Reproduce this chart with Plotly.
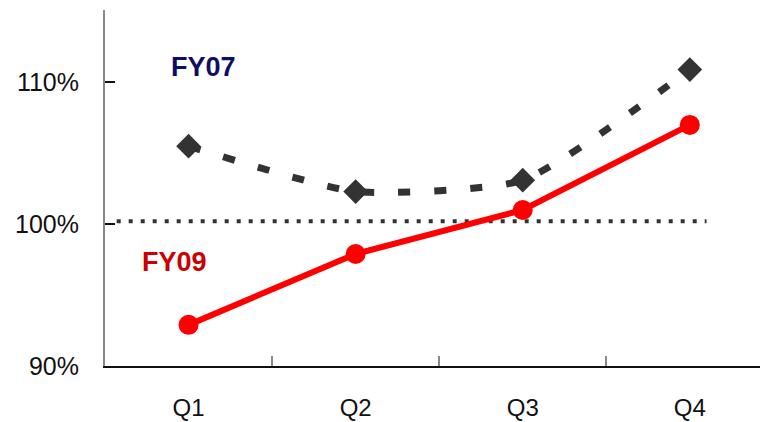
import plotly.graph_objects as go

quarters = ["Q1", "Q2", "Q3", "Q4"]
fy07 = [105.5, 102.3, 103.1, 110.9]
fy09 = [92.9, 97.9, 101.0, 107.0]
baseline = 100.2
y_ticks = [90, 100, 110]
y_tick_labels = ["90%", "100%", "110%"]

FONT_FAMILY = "Liberation Sans, Arial, sans-serif"

fig = go.Figure()

# reference line near 100%
fig.add_shape(
    type="line", xref="x", yref="y",
    x0=-0.43, x1=3.1, y0=baseline, y1=baseline,
    line=dict(color="#333333", width=4, dash="4px,8px"),
    layer="below",
)

fig.add_trace(go.Scatter(
    x=quarters, y=fy07, mode="lines+markers", name="FY07",
    line=dict(color="#333333", width=7, dash="12px,24px", shape="spline", smoothing=0.55),
    marker=dict(symbol="diamond", size=19, color="#333333"),
))

fig.add_trace(go.Scatter(
    x=quarters, y=fy09, mode="lines+markers", name="FY09",
    line=dict(color="#ff0000", width=6),
    marker=dict(symbol="circle", size=20, color="#ff0000"),
))

fig.add_annotation(x=0.09, y=111.1, xref="x", yref="y", text="<b>FY07</b>",
                   showarrow=False, font=dict(family=FONT_FAMILY, size=27, color="#0d0d66"))
fig.add_annotation(x=-0.084, y=97.3, xref="x", yref="y", text="<b>FY09</b>",
                   showarrow=False, font=dict(family=FONT_FAMILY, size=27, color="#cc0000"))

fig.update_layout(
    width=760, height=422,
    margin=dict(l=105, r=0, t=10, b=56),
    paper_bgcolor="white", plot_bgcolor="white",
    showlegend=False,
    xaxis=dict(
        type="category", range=[-0.5, 3.42], automargin=False,
        showgrid=False, zeroline=False,
        showline=True, linecolor="#111111", linewidth=2,
        ticks="inside", tickson="boundaries", ticklen=10, tickcolor="#888888", tickwidth=2,
        tickfont=dict(family=FONT_FAMILY, size=24, color="#111111"), ticklabelstandoff=19,
    ),
    yaxis=dict(
        range=[90, 115.1], automargin=False,
        tickvals=y_ticks, ticktext=y_tick_labels,
        showgrid=False, zeroline=False,
        showline=True, linecolor="#888888", linewidth=2,
        ticks="inside", ticklen=10, tickcolor="#111111", tickwidth=1.5,
        tickfont=dict(family=FONT_FAMILY, size=25, color="#111111"), ticklabelstandoff=19,
    ),
)

fig.write_html("out.html")
